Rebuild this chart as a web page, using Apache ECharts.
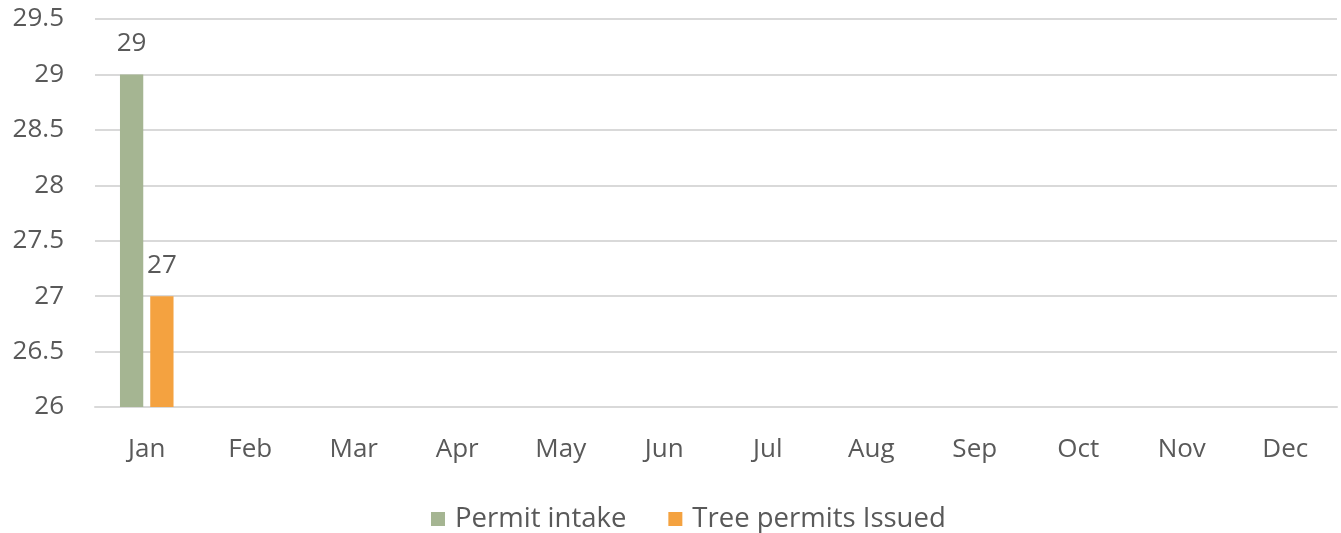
<!DOCTYPE html>
<html><head><meta charset="utf-8">
<script src="https://cdn.jsdelivr.net/npm/echarts@6/dist/echarts.min.js"></script>
<style>html,body{margin:0;padding:0;background:#fff}#c{width:1341px;height:533px}</style>
</head><body><div id="c"></div>
<script>
const categories = ['Jan','Feb','Mar','Apr','May','Jun','Jul','Aug','Sep','Oct','Nov','Dec'];
const permitIntake = [29, null, null, null, null, null, null, null, null, null, null, null];
const treePermitsIssued = [27, null, null, null, null, null, null, null, null, null, null, null];
const seriesNames = ['Permit intake', 'Tree permits Issued'];

const font = '"Open Sans", "Noto Sans", sans-serif';
const txt = '#595959';
const fs = 26;
const chart = echarts.init(document.getElementById('c'));
chart.setOption({
  animation: false,
  grid: { left: 95, right: 4, top: 19, bottom: 126, containLabel: false },
  legend: {
    bottom: -5, left: 426,
    itemWidth: 14, itemHeight: 14, itemGap: 42,
    icon: 'rect',
    textStyle: { color: txt, fontSize: 27.5, fontFamily: font, padding: [0, 0, 0, 5] },
    data: seriesNames
  },
  xAxis: {
    type: 'category', data: categories,
    axisLine: { show: true, lineStyle: { color: '#d9d9d9', width: 2 } },
    axisTick: { show: false },
    axisLabel: { color: txt, fontSize: fs, fontFamily: font, margin: 30 }
  },
  yAxis: {
    type: 'value', min: 26, max: 29.5, interval: 0.5,
    axisLine: { show: false }, axisTick: { show: false },
    splitLine: { lineStyle: { color: '#d9d9d9', width: 2 } },
    axisLabel: { color: txt, fontSize: fs, fontFamily: font, margin: 31 }
  },
  series: [
    { name: seriesNames[0], type: 'bar', data: permitIntake, barWidth: '22.5%', barGap: '30%',
      itemStyle: { color: '#A5B592' },
      label: { show: true, position: 'top', distance: 18, color: txt, fontSize: fs, fontFamily: font } },
    { name: seriesNames[1], type: 'bar', data: treePermitsIssued, barWidth: '22.5%', barGap: '30%',
      itemStyle: { color: '#F4A240' },
      label: { show: true, position: 'top', distance: 18, color: txt, fontSize: fs, fontFamily: font } }
  ]
});
</script></body></html>
